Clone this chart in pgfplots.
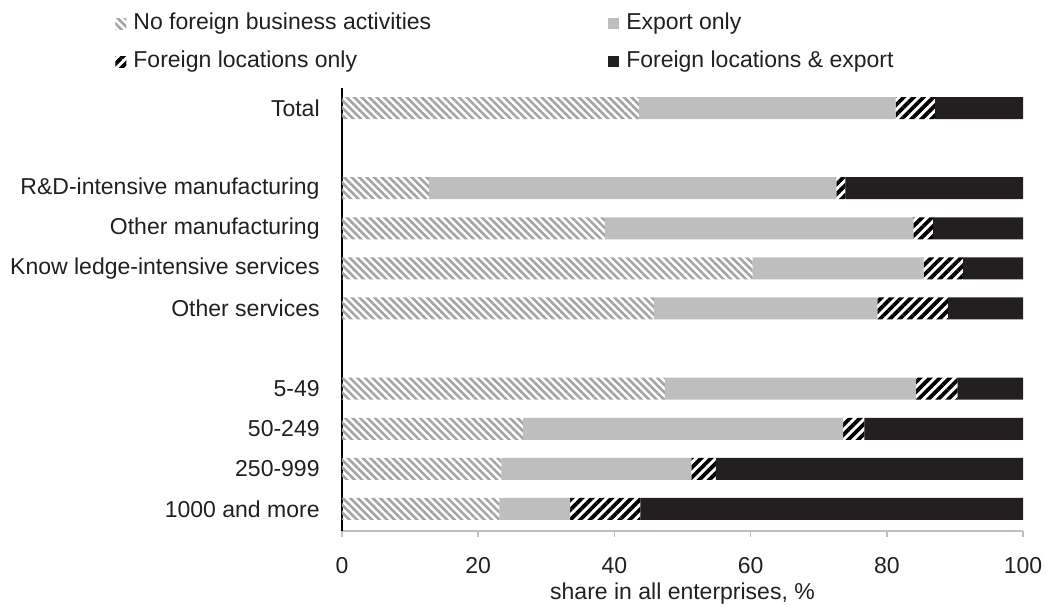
\documentclass[border=0pt]{standalone}
\usepackage{fontspec}
\setmainfont{Liberation Sans}
\usepackage{pgfplots}
\pgfplotsset{compat=1.18}
\usetikzlibrary{patterns.meta}
\definecolor{exportgray}{RGB}{190,190,190}
\definecolor{darkfill}{RGB}{35,31,32}
\definecolor{hatchgray}{RGB}{165,165,165}
\definecolor{axisgray}{RGB}{191,191,191}
\definecolor{textdark}{RGB}{35,31,32}
\tikzset{
  nofor/.style={draw=none, pattern={Lines[angle=-45,distance=2.65pt,line width=1.3pt]}, pattern color=hatchgray},
  exponly/.style={draw=none, fill=exportgray},
  foronly/.style={draw=none, pattern={Lines[angle=45,distance=3.5pt,line width=1.9pt]}, pattern color=black},
  both/.style={draw=none, fill=darkfill},
}
\newcommand{\lfont}{\fontsize{11.5}{13.8}\selectfont}
\begin{document}
\begin{tikzpicture}
\begin{axis}[
  name=ax,
  scale only axis,
  width=340.5pt, height=221.5pt,
  xbar stacked, bar width=11pt,
  xmin=0, xmax=100, ymin=-0.55, ymax=10.5,
  axis lines=left,
  axis line style={-},
  x axis line style={draw=axisgray, line width=1pt},
  y axis line style={draw=black, line width=0.75pt},
  /pgf/number format/assume math mode=true,
  xtick={0,20,40,60,80,100},
  xtick align=outside,
  xtick style={draw=axisgray, line width=0.75pt},
  major tick length=3pt,
  ytick={0,1,2,3,5,6,7,8,10},
  ytick style={draw=none},
  yticklabels={1000 and more,250-999,50-249,5-49,Other services,Know ledge-intensive services,Other manufacturing,R\&D-intensive manufacturing,Total},
  tick label style={font=\lfont, text=textdark},
  yticklabel style={inner sep=0pt, anchor=east, xshift=-9.5pt},
  xticklabel style={inner sep=0pt, anchor=north, yshift=-10pt},
  xlabel={share in all enterprises, \%},
  xlabel style={font=\lfont, text=textdark, inner sep=0pt, at={(axis description cs:0.5,0)}, anchor=north, yshift=-25.5pt},
  legend columns=2,
  legend style={draw=none, fill=none, inner sep=0pt, font=\lfont, text=textdark,
    at={(axis description cs:-0.3333,1.1716)}, anchor=north west,
    row sep=9.2pt,
    nodes={inner sep=0pt, anchor=base west},
    /tikz/every odd column/.append style={column sep=3.5pt},
    /tikz/every even column/.append style={column sep=88.5pt}},
  legend cell align=left,
  legend image code/.code={\path[#1] (0pt,0pt) rectangle (5.5pt,5.5pt);},
]
\addplot[nofor] coordinates {(43.6,10) (12.8,8) (38.6,7) (60.3,6) (45.8,5) (47.4,3) (26.6,2) (23.4,1) (23.1,0)};
\addplot[exponly] coordinates {(37.7,10) (59.8,8) (45.3,7) (25.1,6) (32.8,5) (36.9,3) (47.0,2) (27.9,1) (10.4,0)};
\addplot[foronly] coordinates {(5.8,10) (1.3,8) (2.9,7) (5.8,6) (10.4,5) (6.1,3) (3.1,2) (3.6,1) (10.3,0)};
\addplot[both] coordinates {(12.9,10) (26.1,8) (13.2,7) (8.8,6) (11.0,5) (9.6,3) (23.3,2) (45.1,1) (56.2,0)};
\legend{No foreign business activities, Export only, Foreign locations only, Foreign locations \& export}
\end{axis}
\pgfresetboundingbox
\path[use as bounding box] ([xshift=-171pt,yshift=-37pt]ax.south west) rectangle ([xshift=11pt,yshift=44pt]ax.north east);
\end{tikzpicture}
\end{document}
